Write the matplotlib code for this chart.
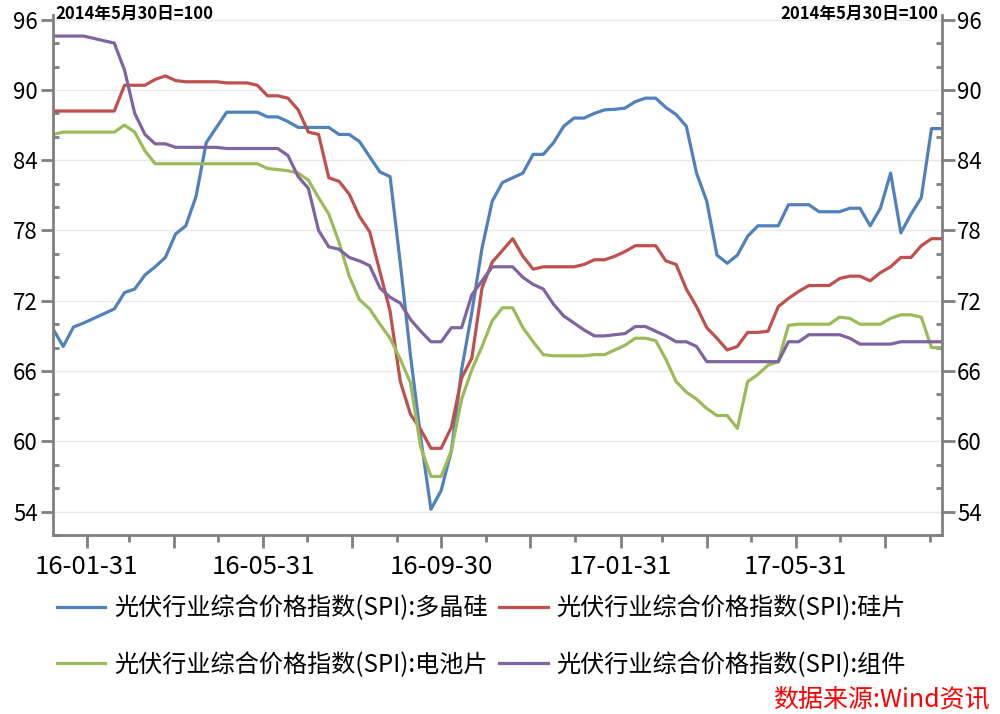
import matplotlib
matplotlib.use('Agg')
import matplotlib.pyplot as plt
from matplotlib.ticker import MultipleLocator, FixedLocator, FixedFormatter
import matplotlib.dates as mdates
import pandas as pd

plt.rcParams['font.family'] = ['Noto Sans CJK SC', 'DejaVu Sans']

# weekly observations
dates = pd.date_range('2016-01-08', periods=88, freq='7D')

polysilicon = [69.6, 68.1, 69.75, 70.1, 70.5, 70.9, 71.3, 72.7, 73.0, 74.2,
               74.9, 75.7, 77.7, 78.4, 80.9, 85.5, 86.8, 88.1, 88.1, 88.1,
               88.1, 87.7, 87.7, 87.3, 86.8, 86.8, 86.8, 86.8, 86.2, 86.2,
               85.6, 84.3, 83.0, 82.6, 75.2, 67.3, 60.3, 54.2, 55.8, 59.2,
               66.1, 71.0, 76.5, 80.5, 82.1, 82.5, 82.9, 84.5, 84.5, 85.5,
               86.9, 87.6, 87.6, 88.0, 88.3, 88.35, 88.45, 89.0, 89.3, 89.3,
               88.5, 87.9, 86.9, 82.9, 80.5, 75.9, 75.2, 75.9, 77.5, 78.4,
               78.4, 78.4, 80.2, 80.2, 80.2, 79.6, 79.6, 79.6, 79.9, 79.9,
               78.4, 79.9, 82.9, 77.8, 79.4, 80.8, 86.7, 86.7]

wafer = [88.2, 88.2, 88.2, 88.2, 88.2, 88.2, 88.2, 90.4, 90.4, 90.4,
         90.9, 91.2, 90.8, 90.7, 90.7, 90.7, 90.7, 90.6, 90.6, 90.6,
         90.4, 89.5, 89.5, 89.3, 88.3, 86.4, 86.2, 82.5, 82.2, 81.1,
         79.2, 77.9, 74.5, 71.1, 65.1, 62.3, 61.0, 59.4, 59.4, 61.2,
         65.4, 67.1, 73.1, 75.3, 76.3, 77.3, 75.8, 74.7, 74.9, 74.9,
         74.9, 74.9, 75.1, 75.5, 75.5, 75.8, 76.2, 76.7, 76.7, 76.7,
         75.4, 75.1, 73.0, 71.5, 69.7, 68.8, 67.8, 68.1, 69.3, 69.3,
         69.4, 71.5, 72.2, 72.8, 73.3, 73.3, 73.3, 73.9, 74.1, 74.1,
         73.7, 74.4, 74.9, 75.7, 75.7, 76.7, 77.3, 77.3]

cell = [86.2, 86.4, 86.4, 86.4, 86.4, 86.4, 86.4, 87.0, 86.4, 84.8,
        83.7, 83.7, 83.7, 83.7, 83.7, 83.7, 83.7, 83.7, 83.7, 83.7,
        83.7, 83.3, 83.2, 83.1, 82.9, 82.3, 80.8, 79.4, 77.0, 74.1,
        72.1, 71.3, 70.0, 68.8, 67.0, 65.0, 59.5, 57.0, 57.0, 59.2,
        63.6, 66.1, 68.1, 70.3, 71.4, 71.4, 69.7, 68.5, 67.4, 67.3,
        67.3, 67.3, 67.3, 67.4, 67.4, 67.8, 68.2, 68.8, 68.8, 68.6,
        67.0, 65.1, 64.2, 63.6, 62.8, 62.2, 62.2, 61.1, 65.1, 65.7,
        66.5, 66.8, 69.9, 70.0, 70.0, 70.0, 70.0, 70.6, 70.5, 70.0,
        70.0, 70.0, 70.5, 70.8, 70.8, 70.6, 68.0, 68.0]

module = [94.6, 94.6, 94.6, 94.6, 94.4, 94.2, 94.0, 91.7, 88.0, 86.2,
          85.4, 85.4, 85.1, 85.1, 85.1, 85.1, 85.1, 85.0, 85.0, 85.0,
          85.0, 85.0, 85.0, 84.4, 82.6, 81.6, 78.0, 76.6, 76.4, 75.7,
          75.4, 75.0, 73.1, 72.3, 71.8, 70.4, 69.4, 68.5, 68.5, 69.7,
          69.7, 72.5, 73.7, 74.9, 74.9, 74.9, 74.0, 73.4, 73.0, 71.7,
          70.7, 70.1, 69.5, 69.0, 69.0, 69.1, 69.2, 69.8, 69.8, 69.4,
          69.0, 68.5, 68.5, 68.1, 66.8, 66.8, 66.8, 66.8, 66.8, 66.8,
          66.8, 66.8, 68.5, 68.5, 69.1, 69.1, 69.1, 69.1, 68.8, 68.3,
          68.3, 68.3, 68.3, 68.5, 68.5, 68.5, 68.5, 68.5]

prefix = '光伏行业综合价格指数(SPI):'
names = ['多晶硅', '硅片', '电池片', '组件']
colors = ['#4F81BD', '#C0504D', '#9BBB59', '#8064A2']

month_ends = pd.date_range('2016-01-31', '2017-08-31', freq='ME')
major_ticks = month_ends[::2]
minor_ticks = month_ends[1::2]
tick_labels = [d.strftime('%y-%m-%d') if i % 2 == 0 else ''
               for i, d in enumerate(major_ticks)]

fig = plt.figure(figsize=(10, 7.14), dpi=100)
ax = fig.add_axes([0.053, 0.2507, 0.8887, 0.7283])

series = [polysilicon, wafer, cell, module]
lines = []
for vals, name, c in zip(series, names, colors):
    ln, = ax.plot(dates, vals, color=c, lw=2.3, label=prefix + name)
    lines.append(ln)

ax.set_xlim(dates[0], dates[-1])
ax.set_ylim(52, 96.4)

ax.yaxis.set_major_locator(MultipleLocator(6))
ax.yaxis.set_minor_locator(MultipleLocator(2))
ax.grid(axis='y', which='major', color='#e9e9e9', lw=1)
ax.set_axisbelow(True)

ax.xaxis.set_major_locator(FixedLocator(mdates.date2num(major_ticks)))
ax.xaxis.set_major_formatter(FixedFormatter(tick_labels))
ax.xaxis.set_minor_locator(FixedLocator(mdates.date2num(minor_ticks)))

spine_c = '#808080'
for side in ['left', 'right', 'bottom']:
    ax.spines[side].set_color(spine_c)
    ax.spines[side].set_linewidth(2)
ax.spines['top'].set_visible(False)

ax.tick_params(axis='y', which='major', direction='out', length=9,
               width=2, color=spine_c, labelsize=16, pad=2,
               left=True, right=True, labelleft=True, labelright=True)
ax.tick_params(axis='y', which='minor', direction='in', length=4,
               width=2, color=spine_c, left=True, right=True)
ax.tick_params(axis='x', which='major', direction='out', length=9,
               width=2, color=spine_c, labelsize=18.5, pad=5)
ax.tick_params(axis='x', which='minor', direction='out', length=5,
               width=2, color=spine_c)

fig.text(0.055, 1 - 14 / 714, '2014年5月30日=100', fontsize=12,
         fontweight='bold', ha='left', va='center')
fig.text(0.938, 1 - 14 / 714, '2014年5月30日=100', fontsize=12,
         fontweight='bold', ha='right', va='center')

order = [0, 2, 1, 3]
fig.legend([lines[i] for i in order], [lines[i].get_label() for i in order],
           ncol=2, loc='upper left', bbox_to_anchor=(0.057, 0.1660),
           frameon=False, fontsize=17.4, handlelength=2.0, handletextpad=0.35,
           columnspacing=0.5, labelspacing=1.25, borderpad=0,
           borderaxespad=0)

fig.text(0.99, 1 - 699 / 714, '数据来源:Wind资讯', color='#ff0000',
         fontsize=18, style='italic', ha='right', va='center')

fig.savefig('out.png', dpi=100)
